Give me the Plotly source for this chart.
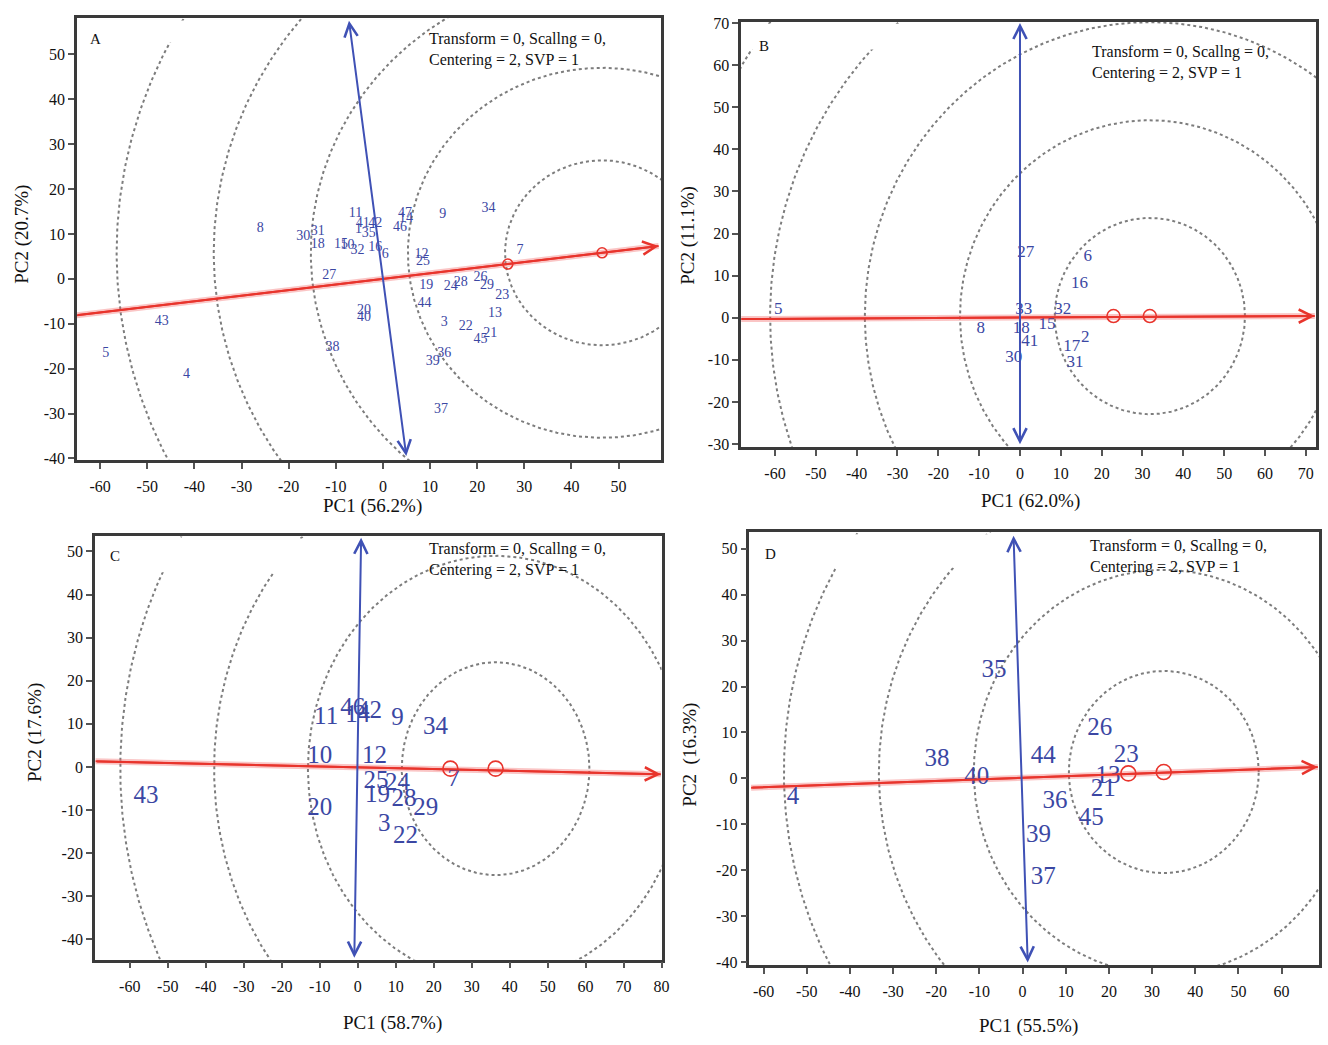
import numpy as np
import plotly.graph_objects as go

W, H = 1328, 1045

# ---------------- Panel A ----------------
a_labels = ["8", "30", "31", "18", "11", "41", "42", "1", "35", "15", "10", "32", "16", "6", "27",
            "47", "14", "46", "9", "34", "7", "12", "25", "19", "24", "28", "26", "29", "23", "44",
            "13", "20", "40", "3", "22", "21", "45", "38", "36", "39", "37", "43", "5", "4"]
a_pc1 = [-26.0, -16.9, -13.8, -13.8, -5.8, -4.3, -1.6, -5.2, -3.0, -8.9, -7.5, -5.4, -1.6, 0.5, -11.4,
         4.7, 4.9, 3.6, 12.7, 22.4, 29.1, 8.2, 8.5, 9.2, 14.4, 16.5, 20.7, 22.1, 25.3, 8.8,
         23.8, -4.0, -4.0, 13.0, 17.6, 22.8, 20.7, -10.7, 13.0, 10.6, 12.3, -46.9, -58.8, -41.7]
a_pc2 = [11.2, 9.5, 10.6, 7.7, 14.6, 12.4, 12.4, 10.9, 10.0, 7.7, 7.4, 6.3, 7.0, 5.5, 0.8,
         14.6, 13.4, 11.4, 14.3, 15.7, 6.3, 5.5, 3.8, -1.4, -1.7, -0.8, 0.2, -1.5, -3.7, -5.4,
         -7.8, -7.1, -8.6, -9.8, -10.7, -12.2, -13.6, -15.4, -16.7, -18.5, -29.2, -9.6, -16.6, -21.2]
a_ideal_pc1 = [26.5, 46.5]
a_ideal_pc2 = [3.3, 5.8]
a_circle_radii = [20.6, 41.2, 61.8, 82.4, 103.0]
a_red_tail, a_red_head = (-65.0, -8.1), (58.5, 7.3)
a_blue_tail, a_blue_head = (5.0, -39.8), (-7.2, 57.5)
a_xticks = [-60, -50, -40, -30, -20, -10, 0, 10, 20, 30, 40, 50]
a_yticks = [-40, -30, -20, -10, 0, 10, 20, 30, 40, 50]
a_xtitle, a_ytitle = "PC1 (56.2%)", "PC2 (20.7%)"

# ---------------- Panel B ----------------
b_labels = ["27", "6", "16", "33", "32", "8", "18", "15", "41", "2", "17", "31", "30", "5"]
b_pc1 = [1.4, 16.6, 14.6, 0.9, 10.5, -9.6, 0.3, 6.6, 2.4, 16.0, 12.7, 13.5, -1.5, -59.2]
b_pc2 = [15.4, 14.5, 8.0, 2.0, 1.8, -2.5, -2.5, -1.6, -5.6, -4.8, -6.8, -10.7, -9.5, 1.9]
b_ideal_pc1 = [22.9, 31.8]
b_ideal_pc2 = [0.4, 0.4]
b_circle_radii = [23.3, 46.5, 69.8, 93.0, 116.3]
b_red_tail, b_red_head = (-68.3, -0.3), (72.2, 0.4)
b_blue_tail, b_blue_head = (0.0, -30.4), (0.0, 70.0)
b_xticks = [-60, -50, -40, -30, -20, -10, 0, 10, 20, 30, 40, 50, 60, 70]
b_yticks = [-30, -20, -10, 0, 10, 20, 30, 40, 50, 60, 70]
b_xtitle, b_ytitle = "PC1 (62.0%)", "PC2 (11.1%)"

# ---------------- Panel C ----------------
c_labels = ["11", "46", "14", "42", "9", "34", "10", "12", "7", "25", "24", "19", "28", "29",
            "20", "3", "22", "43"]
c_pc1 = [-8.3, -1.3, 0.0, 3.1, 10.5, 20.5, -10.0, 4.4, 25.3, 4.8, 10.5, 5.2, 12.2, 17.9,
         -10.0, 7.0, 12.6, -55.7]
c_pc2 = [11.5, 13.4, 11.9, 12.7, 11.1, 9.2, 2.4, 2.4, -3.0, -3.4, -3.8, -6.8, -7.6, -9.8,
         -9.8, -13.3, -16.3, -7.0]
c_ideal_pc1 = [24.4, 36.3]
c_ideal_pc2 = [-0.4, -0.4]
c_circle_radii = [24.7, 49.4, 74.1, 98.8]
c_red_tail, c_red_head = (-69.0, 1.3), (79.8, -1.7)
c_blue_tail, c_blue_head = (-0.9, -44.6), (0.9, 53.2)
c_xticks = [-60, -50, -40, -30, -20, -10, 0, 10, 20, 30, 40, 50, 60, 70, 80]
c_yticks = [-40, -30, -20, -10, 0, 10, 20, 30, 40, 50]
c_xtitle, c_ytitle = "PC1 (58.7%)", "PC2 (17.6%)"

# ---------------- Panel D ----------------
d_labels = ["35", "26", "23", "38", "44", "40", "13", "21", "36", "45", "39", "37", "4"]
d_pc1 = [-6.6, 17.9, 24.0, -19.8, 4.8, -10.6, 19.8, 18.7, 7.5, 15.9, 3.7, 4.8, -53.2]
d_pc2 = [23.5, 10.9, 5.0, 4.1, 4.8, 0.1, 0.3, -2.4, -5.0, -8.7, -12.4, -21.6, -4.1]
d_ideal_pc1 = [24.5, 32.7]
d_ideal_pc2 = [1.1, 1.4]
d_circle_radii = [22.0, 44.0, 66.0, 88.0]
d_red_tail, d_red_head = (-62.9, -2.0), (68.4, 2.5)
d_blue_tail, d_blue_head = (1.2, -40.4), (-2.1, 52.8)
d_xticks = [-60, -50, -40, -30, -20, -10, 0, 10, 20, 30, 40, 50, 60]
d_yticks = [-40, -30, -20, -10, 0, 10, 20, 30, 40, 50]
d_xtitle, d_ytitle = "PC1 (55.5%)", "PC2  (16.3%)"

note_text = "Transform = 0, Scallng = 0,<br>Centering = 2, SVP = 1"

# ---------------- layout geometry (pixels) ----------------
panels = [
    dict(letter="A", labels=a_labels, x=a_pc1, y=a_pc2, ix=a_ideal_pc1, iy=a_ideal_pc2,
         radii=a_circle_radii, red=(a_red_tail, a_red_head), blue=(a_blue_tail, a_blue_head),
         xt=a_xtitle, yt=a_ytitle, xr=[-64.9, 59.0], yr=[-40.4, 58.0], xticks=a_xticks, yticks=a_yticks,
         box=(77.5, 11.6, 665, 459.4), fs=14, ms=10, letter_pos=(96, 32), note_pos=(430, 21),
         mask=(260, 36), xt_pos=(375, 506), yt_pos=(22, 230)),
    dict(letter="B", labels=b_labels, x=b_pc1, y=b_pc2, ix=b_ideal_pc1, iy=b_ideal_pc2,
         radii=b_circle_radii, red=(b_red_tail, b_red_head), blue=(b_blue_tail, b_blue_head),
         xt=b_xtitle, yt=b_ytitle, xr=[-68.3, 72.5], yr=[-30.7, 70.3], xticks=b_xticks, yticks=b_yticks,
         box=(745.6, 14.9, 1324, 446), fs=17, ms=13, letter_pos=(769, 40), note_pos=(1097, 34),
         mask=(989, 43), xt_pos=(1037, 501), yt_pos=(692, 231)),
    dict(letter="C", labels=c_labels, x=c_pc1, y=c_pc2, ix=c_ideal_pc1, iy=c_ideal_pc2,
         radii=c_circle_radii, red=(c_red_tail, c_red_head), blue=(c_blue_tail, c_blue_head),
         xt=c_xtitle, yt=c_ytitle, xr=[-69.2, 80.0], yr=[-44.7, 53.5], xticks=c_xticks, yticks=c_yticks,
         box=(95.4, 536.6, 665.6, 965.5), fs=25, ms=15, letter_pos=(116, 556), note_pos=(430, 538),
         mask=(355, 573), xt_pos=(395, 1030), yt_pos=(35, 735)),
    dict(letter="D", labels=d_labels, x=d_pc1, y=d_pc2, ix=d_ideal_pc1, iy=d_ideal_pc2,
         radii=d_circle_radii, red=(d_red_tail, d_red_head), blue=(d_blue_tail, d_blue_head),
         xt=d_xtitle, yt=d_ytitle, xr=[-63.3, 68.6], yr=[-40.6, 53.6], xticks=d_xticks, yticks=d_yticks,
         box=(753.9, 532.3, 1326.7, 971), fs=25, ms=15, letter_pos=(775, 554), note_pos=(1095, 535),
         mask=(1020, 568), xt_pos=(1035, 1033), yt_pos=(694, 758)),
]

SERIF = "Liberation Serif, Times New Roman, serif"
LABEL_BLUE = "#3b47a3"
RED = "#e8342c"
BLUE = "#3f51b5"

fig = go.Figure()
shapes, annotations = [], []
theta = np.linspace(0, 2 * np.pi, 721)


def px(xp):
    return xp / W


def py(yp):
    return 1 - yp / H


def ticktxt(vals):
    return [str(v) for v in vals]  # plain hyphen-minus like the reference


for i, p in enumerate(panels):
    n = "" if i == 0 else str(i + 1)
    xa, ya = "x" + n, "y" + n
    x0, y0, x1, y1 = p["box"]
    common = dict(showgrid=False, zeroline=False, showline=True, mirror=True, linecolor="#3a3a3a",
                  linewidth=2.5, ticks="outside", ticklen=6, tickwidth=1.5, tickcolor="#555",
                  tickfont=dict(family=SERIF, size=16, color="#111"), tickmode="array")
    fig.layout["xaxis" + n] = dict(domain=[px(x0), px(x1)], range=p["xr"], anchor=ya,
                                   tickvals=p["xticks"], ticktext=ticktxt(p["xticks"]),
                                   ticklabelstandoff=4, **common)
    fig.layout["yaxis" + n] = dict(domain=[py(y1), py(y0)], range=p["yr"], anchor=xa,
                                   tickvals=p["yticks"], ticktext=ticktxt(p["yticks"]), **common)

    # concentric dotted circles around the ideal point
    cx, cy = p["ix"][-1], p["iy"][-1]
    for r in p["radii"]:
        fig.add_trace(go.Scatter(x=cx + r * np.cos(theta), y=cy + r * np.sin(theta),
                                 mode="lines", line=dict(color="#7d7d7d", width=2, dash="dot"),
                                 hoverinfo="skip", showlegend=False, xaxis=xa, yaxis=ya))

    # red axis with halo
    (rt, rh) = p["red"]
    fig.add_trace(go.Scatter(x=[rt[0], rh[0]], y=[rt[1], rh[1]], mode="lines",
                             line=dict(color="rgba(240,90,90,0.35)", width=6),
                             hoverinfo="skip", showlegend=False, xaxis=xa, yaxis=ya))
    fig.add_trace(go.Scatter(x=[rt[0], rh[0]], y=[rt[1], rh[1]], mode="lines",
                             line=dict(color=RED, width=2),
                             hoverinfo="skip", showlegend=False, xaxis=xa, yaxis=ya))

    # ideal points
    fig.add_trace(go.Scatter(x=p["ix"], y=p["iy"], mode="markers",
                             marker=dict(symbol="circle-open", size=p["ms"], color=RED,
                                         line=dict(width=1.6, color=RED)),
                             hoverinfo="skip", showlegend=False, xaxis=xa, yaxis=ya))

    # genotype labels
    fig.add_trace(go.Scatter(x=p["x"], y=p["y"], text=p["labels"], mode="text",
                             textfont=dict(family=SERIF, size=p["fs"], color=LABEL_BLUE),
                             textposition="middle center", cliponaxis=False,
                             hoverinfo="skip", showlegend=False, xaxis=xa, yaxis=ya))

    # white mask at top-left
    shapes.append(dict(type="rect", xref="paper", yref="paper", layer="above",
                       x0=px(x0 + 2), x1=px(p["mask"][0]), y0=py(p["mask"][1]), y1=py(y0 + 2),
                       fillcolor="white", line=dict(width=0)))

    # red arrow head (single)
    annotations.append(dict(x=rh[0], y=rh[1], ax=rt[0], ay=rt[1], xref=xa, yref=ya,
                            axref=xa, ayref=ya, text="", showarrow=True, arrowhead=5,
                            arrowsize=1.3, arrowwidth=2, arrowcolor=RED, standoff=0))
    # blue double-headed arrow
    (bt, bh) = p["blue"]
    annotations.append(dict(x=bh[0], y=bh[1], ax=bt[0], ay=bt[1], xref=xa, yref=ya,
                            axref=xa, ayref=ya, text="", showarrow=True, arrowhead=5,
                            startarrowhead=5, arrowside="end+start", arrowsize=1.3,
                            startarrowsize=1.3, arrowwidth=2, arrowcolor=BLUE,
                            standoff=0, startstandoff=0))

    # panel letter
    annotations.append(dict(x=px(p["letter_pos"][0]), y=py(p["letter_pos"][1]), xref="paper",
                            yref="paper", text=p["letter"], showarrow=False,
                            xanchor="center", yanchor="middle",
                            font=dict(family=SERIF, size=15, color="#111")))
    # settings note
    annotations.append(dict(x=px(p["note_pos"][0]), y=py(p["note_pos"][1]), xref="paper",
                            yref="paper", text=note_text, showarrow=False, xanchor="left",
                            yanchor="top", align="left",
                            font=dict(family=SERIF, size=16, color="#111")))
    # axis titles
    annotations.append(dict(x=px(p["xt_pos"][0]), y=py(p["xt_pos"][1]), xref="paper",
                            yref="paper", text=p["xt"], showarrow=False,
                            xanchor="center", yanchor="middle",
                            font=dict(family=SERIF, size=19, color="#111")))
    annotations.append(dict(x=px(p["yt_pos"][0]), y=py(p["yt_pos"][1]), xref="paper",
                            yref="paper", text=p["yt"], showarrow=False, textangle=-90,
                            xanchor="center", yanchor="middle",
                            font=dict(family=SERIF, size=19, color="#111")))

fig.update_layout(width=W, height=H, margin=dict(l=0, r=0, t=0, b=0),
                  paper_bgcolor="white", plot_bgcolor="white", showlegend=False,
                  shapes=shapes, annotations=annotations)
fig.write_html(
    "out.html",
    config={"displayModeBar": False, "responsive": False},
    default_width="1328px",
    default_height="1045px",
    post_script=("document.documentElement.style.margin='0';"
                 "document.documentElement.style.padding='0';"
                 "document.documentElement.style.overflow='hidden';"
                 "document.body.style.margin='0';"
                 "document.body.style.padding='0';"
                 "document.body.style.overflow='hidden';"),
)
